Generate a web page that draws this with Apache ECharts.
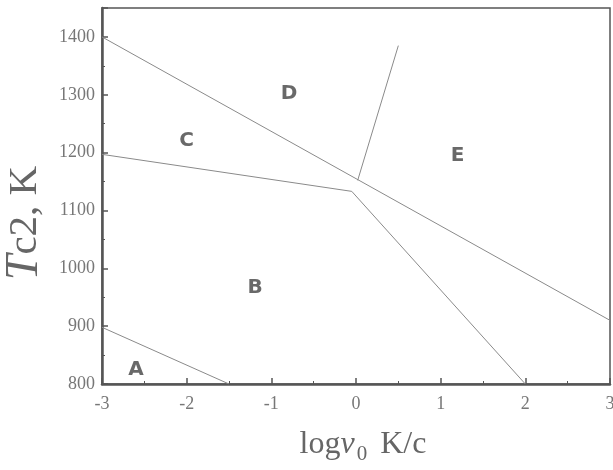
<!DOCTYPE html>
<html><head><meta charset="utf-8">
<script src="https://cdn.jsdelivr.net/npm/echarts@6/dist/echarts.min.js"></script>
<style>html,body{margin:0;padding:0;background:#fff}#c{width:613px;height:470px}</style>
</head><body><div id="c"></div>
<script>
// boundary lines of the phase diagram [logv0, Tc2]
const lineCE  = [[-3, 1400], [3, 910]];
const lineCB  = [[-3, 1197], [-0.05, 1133]];
const lineBE  = [[-0.05, 1133], [2, 800]];
const lineDE  = [[0.02, 1152], [0.5, 1385]];
const lineAB  = [[-3, 898], [-1.5, 800]];
const regionLabels = ['A', 'B', 'C', 'D', 'E'];
const regionPos = [[-2.6, 824], [-1.19, 967], [-2.0, 1221], [-0.79, 1302], [1.2, 1195]];
const xTicks = [-3, -2, -1, 0, 1, 2, 3];
const yTicks = [800, 900, 1000, 1100, 1200, 1300, 1400];

const chart = echarts.init(document.getElementById('c'));
const lineStyle = {color: '#8a8a8a', width: 1};
function seg(d) {
  return {type: 'line', data: d, symbol: 'none', lineStyle: lineStyle, silent: true, animation: false};
}
chart.setOption({
  animation: false,
  grid: {left: 102, right: 3, top: 8, bottom: 86, show: true, borderColor: '#555', borderWidth: 1.5,
    outerBoundsMode: 'none', containLabel: false},
  xAxis: {
    type: 'value', min: -3, max: 3, interval: 1,
    axisLine: {onZero: false, lineStyle: {color: '#555', width: 2.5}},
    axisTick: {inside: true, length: 6, lineStyle: {color: '#555', width: 1.5}},
    minorTick: {show: true, splitNumber: 2, length: 3, lineStyle: {color: '#555'}},
    splitLine: {show: false},
    axisLabel: {color: '#777', fontFamily: 'Liberation Serif', fontSize: 18, margin: 11,
      formatter: v => xTicks.includes(v) ? String(v) : ''},
    name: '{n|log}{i|v}{s|0}{n| K/c}', nameLocation: 'middle', nameGap: 40,
    nameTextStyle: {padding: [0, 0, 0, 14], rich: {
      n: {fontFamily: 'Liberation Serif', fontSize: 32, color: '#666'},
      i: {fontFamily: 'Liberation Serif', fontStyle: 'italic', fontSize: 32, color: '#666'},
      s: {fontFamily: 'Liberation Serif', fontSize: 21, color: '#666', padding: [20, 5, 0, 2]}
    }}
  },
  yAxis: {
    type: 'value', min: 800, max: 1450, interval: 100,
    axisLine: {onZero: false, lineStyle: {color: '#555', width: 2.5}},
    axisTick: {inside: true, length: 6, lineStyle: {color: '#555', width: 1.5}},
    minorTick: {show: true, splitNumber: 2, length: 3, lineStyle: {color: '#555'}},
    splitLine: {show: false},
    axisLabel: {color: '#777', fontFamily: 'Liberation Serif', fontSize: 18, margin: 7,
      formatter: v => yTicks.includes(v) ? String(v) : ''},
    name: '{i|T}{n|c2, K}', nameLocation: 'middle', nameGap: 54, nameRotate: 90,
    nameTextStyle: {padding: [0, 54, 0, 0], rich: {
      i: {fontFamily: 'Liberation Serif', fontStyle: 'italic', fontSize: 46, color: '#666'},
      n: {fontFamily: 'Liberation Serif', fontSize: 41, color: '#666'}
    }}
  },
  series: [
    seg(lineCE), seg(lineCB), seg(lineBE), seg(lineDE), seg(lineAB),
    {
      type: 'scatter', symbolSize: 0, silent: true,
      data: regionPos.map((p, i) => ({value: p, name: regionLabels[i]})),
      label: {show: true, position: 'inside', formatter: p => p.name,
        fontFamily: 'DejaVu Sans', fontWeight: 'bold', fontSize: 20, color: '#444'}
    }
  ]
});
</script></body></html>
